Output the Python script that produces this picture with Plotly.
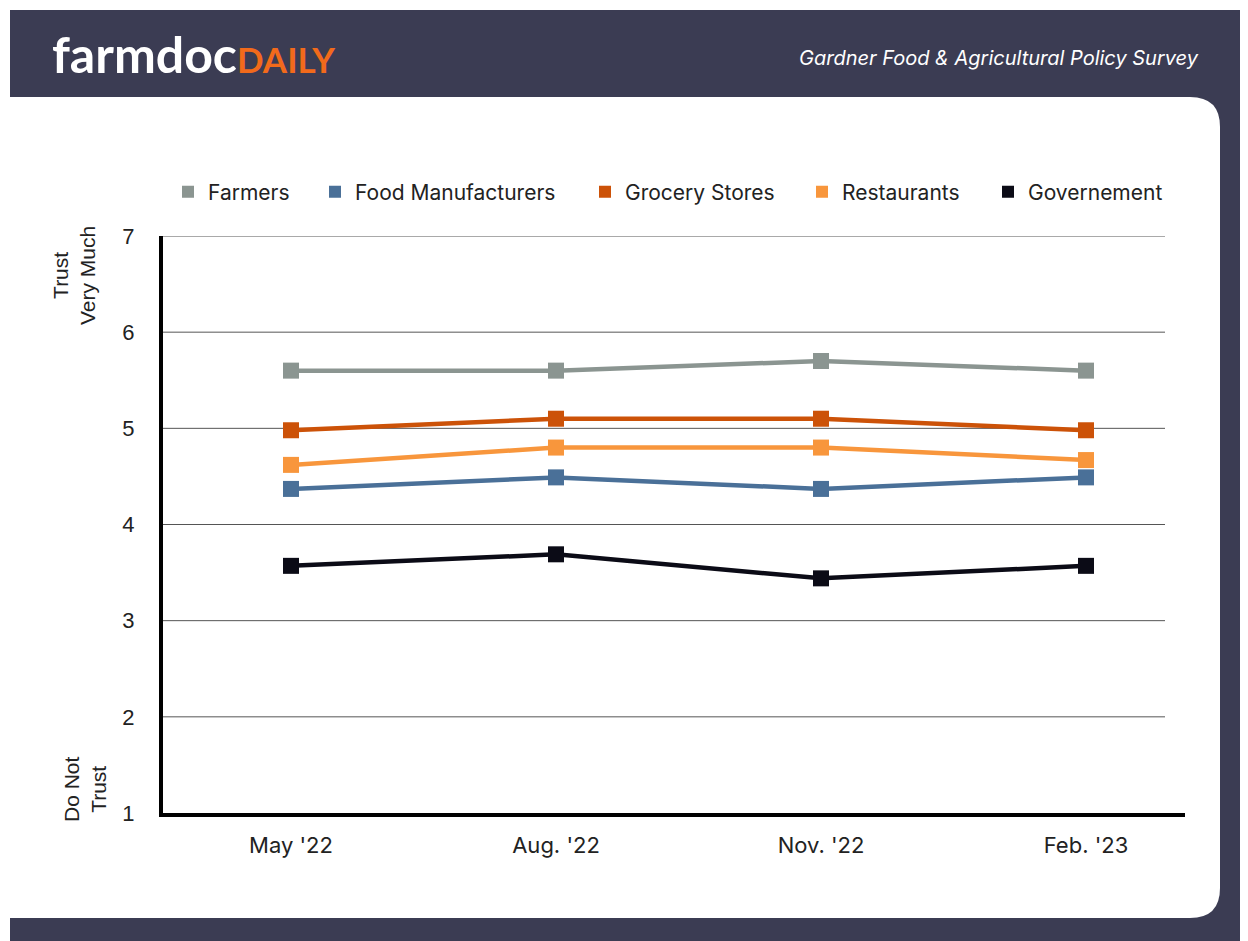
import plotly.graph_objects as go

periods = ["May '22", "Aug. '22", "Nov. '22", "Feb. '23"]
farmers = [5.6, 5.6, 5.7, 5.6]
food_manufacturers = [4.37, 4.49, 4.37, 4.49]
grocery_stores = [4.98, 5.1, 5.1, 4.98]
restaurants = [4.62, 4.8, 4.8, 4.67]
government = [3.57, 3.69, 3.44, 3.57]

series_names = ["Farmers", "Food Manufacturers", "Grocery Stores", "Restaurants", "Governement"]
series_values = [farmers, food_manufacturers, grocery_stores, restaurants, government]
series_colors = ["#8b9591", "#4a7098", "#cc5208", "#f8963c", "#0b0b16"]

y_ticks = [1, 2, 3, 4, 5, 6, 7]

# page coordinates (the page has an 8px body margin)
OFF = 8
W_FIG, H_FIG = 1248 - OFF, 941 - OFF
L, R, T, B = 163, 1185, 236, 813
PW, PH = R - L, B - T


def px(x):
    return (x - L) / PW


def py(y):
    return (B - y) / PH


DARK = "#3b3c53"
FONT = "Inter, Lato, sans-serif"
ARIAL = "Liberation Sans, Arial, sans-serif"

legend_ids = ["legend", "legend2", "legend3", "legend4", "legend5"]
legend_marker_x = [188, 335, 605, 822, 1008]

fig = go.Figure()

for name, vals, col in zip(series_names, series_values, series_colors):
    fig.add_trace(go.Scatter(
        x=periods, y=vals, mode="lines+markers", name=name,
        line=dict(color=col, width=4.5),
        marker=dict(symbol="square", size=16, color=col),
        showlegend=False, hoverinfo="x+y+name",
    ))

for name, col, lid in zip(series_names, series_colors, legend_ids):
    fig.add_trace(go.Scatter(
        x=[None], y=[None], mode="markers", name=name, legend=lid,
        marker=dict(symbol="square", size=12, color=col),
        showlegend=True,
    ))

shapes = []
shapes.append(dict(type="rect", xref="paper", yref="paper",
                   x0=px(10), x1=px(1250), y0=py(943), y1=py(10),
                   fillcolor=DARK, line=dict(width=0), layer="below"))
path = (f"M {px(10)},{py(97)} L {px(1190)},{py(97)} "
        f"Q {px(1220)},{py(97)} {px(1220)},{py(127)} "
        f"L {px(1220)},{py(888)} "
        f"Q {px(1220)},{py(918)} {px(1190)},{py(918)} "
        f"L {px(10)},{py(918)} Z")
shapes.append(dict(type="path", xref="paper", yref="paper", path=path,
                   fillcolor="white", line=dict(width=0), layer="below"))
for v in y_ticks[1:]:
    shapes.append(dict(type="line", xref="paper", yref="y",
                       x0=0, x1=px(1165), y0=v, y1=v,
                       line=dict(color="#555555", width=1), layer="below"))

annotations = [
    dict(text="<b>farmdoc</b>", xref="paper", yref="paper", x=px(50), y=py(54),
         xanchor="left", yanchor="middle", showarrow=False,
         font=dict(family="Lato", size=50, color="white")),
    dict(text="<b>DAILY</b>", xref="paper", yref="paper", x=px(235), y=py(59),
         xanchor="left", yanchor="middle", showarrow=False,
         font=dict(family="Lato", size=35, color="#f26a1b")),
    dict(text="<i>Gardner Food &amp; Agricultural Policy Survey</i>", xref="paper", yref="paper",
         x=px(1201), y=py(58), xanchor="right", yanchor="middle", showarrow=False,
         font=dict(family=FONT, size=20, color="white")),
    dict(text="Trust<br>Very Much", xref="paper", yref="paper", x=px(74), y=py(276),
         xanchor="center", yanchor="middle", showarrow=False, textangle=-90,
         font=dict(family=ARIAL, size=21, color="#222222")),
    dict(text="Do Not<br>Trust", xref="paper", yref="paper", x=px(85), y=py(789),
         xanchor="center", yanchor="middle", showarrow=False, textangle=-90,
         font=dict(family=ARIAL, size=21, color="#222222")),
]

legend_layouts = {}
for lid, mx in zip(legend_ids, legend_marker_x):
    legend_layouts[lid] = dict(
        orientation="h", x=px(mx - 20), y=py(192), xanchor="left", yanchor="middle",
        font=dict(family=FONT, size=21, color="#222222"),
        itemwidth=30, bgcolor="rgba(0,0,0,0)")

fig.update_layout(
    width=W_FIG, height=H_FIG,
    margin=dict(l=L - OFF, r=1248 - R, t=T - OFF, b=941 - B, pad=0),
    paper_bgcolor="white", plot_bgcolor="rgba(0,0,0,0)",
    font=dict(family=FONT, color="#222222"),
    shapes=shapes, annotations=annotations,
    xaxis=dict(type="category", range=[-(291 - L) / 265, (R - 291) / 265],
               showgrid=False, zeroline=False, showline=True, linecolor="black", linewidth=4,
               ticks="", tickfont=dict(family=FONT, size=22, color="#222222"),
               ticklabelstandoff=10),
    yaxis=dict(range=[1, 7], tickvals=y_ticks, showgrid=False, zeroline=False,
               showline=True, linecolor="black", linewidth=4, ticks="",
               tickfont=dict(family=ARIAL, size=22, color="#222222"),
               ticklabelstandoff=20),
    **legend_layouts,
)

fig.write_html("out.html")
